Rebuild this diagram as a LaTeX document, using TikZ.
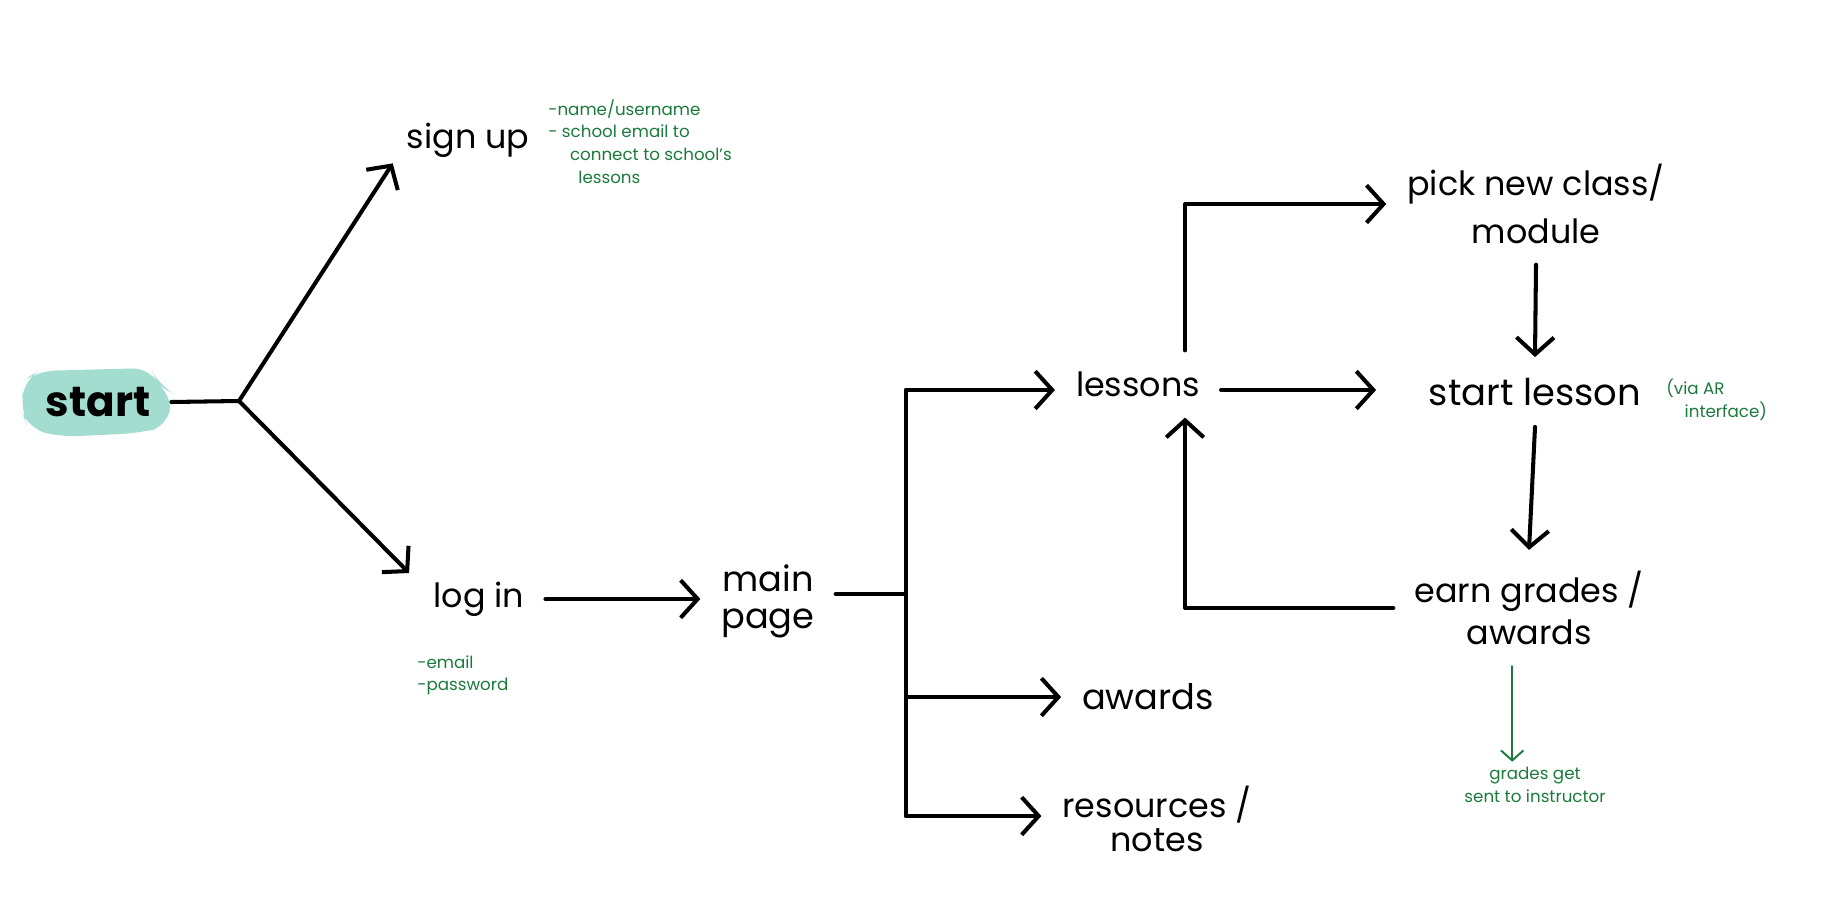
\documentclass[tikz,border=0pt]{standalone}
\usepackage{fontspec}
\setmainfont{Poppins}
\usetikzlibrary{arrows.meta,calc}
\definecolor{StartTeal}{HTML}{A3DDD0}
\definecolor{NoteGreen}{HTML}{1B7A3C}

\begin{document}
\begin{tikzpicture}[x=0.2mm,y=-0.2mm,line cap=round,line join=round,
  t/.style={font=\fontsize{19}{24}\selectfont,align=center,inner sep=2pt,outer sep=10pt},
  n/.style={font=\fontsize{9.5}{13}\selectfont,text=NoteGreen,align=left,inner sep=0pt},
  ln/.style={line width=2.3pt},
  arr/.style={ln,-{Straight Barb[length=3.4mm,width=7.5mm]}},
  garr/.style={NoteGreen,line width=1.1pt,-{Straight Barb[length=2mm,width=4.5mm]}}]
  \useasboundingbox (0,0) rectangle (1827,919);
  % start blob
  \fill[StartTeal,rounded corners=10] (24,380) -- (38,371) -- (150,368) -- (160,386) -- (172,393) -- (168,426) -- (140,433) -- (60,437) -- (28,428) -- (21,410) -- cycle;
  \node[t,font=\fontsize{24}{26}\selectfont\bfseries] (start) at (98,402) {start};
  \coordinate (fork) at (239,401);

  \node[t] (signup) at (468,140) {sign up};
  \node[t] (login) at (479,599) {log in};
  \node[t,font=\fontsize{20}{21}\selectfont] (mainpage) at (768,601) {main\\page};
  \coordinate (ttop) at (906,390);
  \coordinate (trunk) at (906,594);
  \coordinate (tbot) at (906,816);

  \node[t] (lessons) at (1138,384) {lessons};
  \node[t,font=\fontsize{20}{24}\selectfont] (awards) at (1148,697) {awards};
  \node[t,font=\fontsize{19}{19}\selectfont] (resources) at (1157,819) {resources /\\notes};
  \node[t,font=\fontsize{19}{27}\selectfont] (pick) at (1536,204) {pick new class/\\module};
  \node[t,font=\fontsize{21}{24}\selectfont] (startlesson) at (1535,392) {start lesson};
  \node[t] (earn) at (1529,608) {earn grades /\\awards};

  % green notes
  \node[n,anchor=north west] (signupnote) at (548,99) {-name/username\\- school email to\\\hspace*{1.3em}connect to school's\\\hspace*{1.8em}lessons};
  \node[n,anchor=north west] (loginnote) at (417,655) {-email\\-password};
  \node[n,anchor=north west] (arnote) at (1666,379) {(via AR\\\hspace*{1.1em}interface)};
  \node[n,align=center] (gradesnote) at (1535,785) {grades get\\sent to instructor};

  % connectors
  \draw[ln] (start.east) -- (fork);
  \draw[arr] (fork) -- ([shift={(4pt,8.5pt)}]signup.south west);
  \draw[arr] (fork) -- ([shift={(-2pt,-7pt)}]login.north west);
  \draw[arr] (login.east) -- (mainpage.west |- login.east);
  \draw[ln] (mainpage.east |- trunk) -- (trunk);
  \draw[ln] (ttop) -- (tbot);
  \draw[arr] (ttop) -- (lessons.west |- ttop);
  \draw[arr] (trunk |- awards) -- (awards.west);
  \draw[arr] (tbot) -- (resources.west |- tbot);
  \draw[arr,shorten >=18pt] (lessons.east |- ttop) -- (startlesson.west |- ttop);
  \draw[arr] ($(lessons.north)+(47,0)$) |- (pick.west);
  \draw[arr] (pick.south) -- (startlesson.north);
  \draw[arr] (startlesson.south) -- (earn.north);
  \draw[arr] (earn.west) -| ($(lessons.south)+(47,0)$);
  \draw[garr,shorten >=3pt] ([xshift=-13pt]gradesnote.north |- earn.south) -- ([xshift=-13pt]gradesnote.north);
\end{tikzpicture}
\end{document}
